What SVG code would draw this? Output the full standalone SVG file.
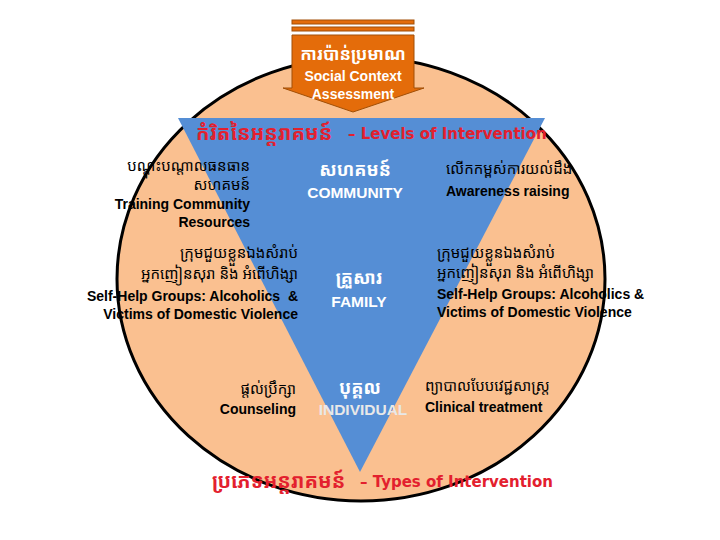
<svg xmlns="http://www.w3.org/2000/svg" width="720" height="540" viewBox="0 0 720 540">
<style>
.en{font-family:"Liberation Sans",Arial,sans-serif;font-weight:bold;font-size:14px;fill:#000}
.km{font-family:"Noto Sans Khmer","Khmer OS","Noto Sans","DejaVu Sans",sans-serif;font-size:15px;fill:#000}
.wh{font-family:"Liberation Sans",Arial,sans-serif;font-weight:bold;font-size:15.5px;fill:#fff}
.kmw{font-family:"Noto Sans Khmer","Khmer OS","Noto Sans","DejaVu Sans",sans-serif;font-weight:bold;font-size:18px;fill:#fff}
.red{font-family:"DejaVu Sans",Verdana,sans-serif;font-weight:bold;font-size:15px;fill:#E3202E}
.kmr{font-family:"Noto Sans Khmer","Khmer OS","Noto Sans","DejaVu Sans",sans-serif;font-weight:bold;font-size:20px;fill:#E3202E}
.r{text-anchor:end}.m{text-anchor:middle}
</style>
<rect width="720" height="540" fill="#fff"/>
<g id="circle"><ellipse cx="361" cy="279" rx="244" ry="222" fill="#FAC090" stroke="#000" stroke-width="3"/></g>
<g id="triangle"><polygon points="178,118 545,118 360,472" fill="#558ED5"/></g>
<g id="assessment">
<rect x="292" y="20" width="122" height="4" fill="#E46C0A" stroke="#A14F06" stroke-width="1"/>
<rect x="292" y="27" width="122" height="4" fill="#E46C0A" stroke="#A14F06" stroke-width="1"/>
<path d="M292,35 H414 V88 H424 L353,112 L283,88 H292 Z" fill="#E46C0A" stroke="#A14F06" stroke-width="1"/>
<text class="kmw m" x="353" y="60" style="font-size:17px">ការប៉ាន់ប្រមាណ</text>
<text class="wh m" x="353" y="81" style="font-size:14px">Social Context</text>
<text class="wh m" x="353" y="99" style="font-size:14px">Assessment</text>
</g>
<g id="levels-title"><text class="kmr" x="196" y="140">កំរិតនៃអន្តរាគមន៍</text><text class="red" x="348" y="139">– Levels of Intervention</text></g>
<g id="community"><text class="kmw m" x="355" y="176">សហគមន៍</text><text class="wh m" x="355" y="198">COMMUNITY</text></g>
<g id="family"><text class="kmw m" x="359" y="284">គ្រួសារ</text><text class="wh m" x="359" y="307">FAMILY</text></g>
<g id="individual"><text class="kmw m" x="360" y="394">បុគ្គល</text><text class="wh m" x="363" y="415" style="fill:#E8E8E8">INDIVIDUAL</text></g>
<g id="training"><text class="km r" x="250" y="171">បណ្តុះបណ្តាលធនធាន</text><text class="km r" x="250" y="190">សហគមន៍</text><text class="en r" x="250" y="209">Training Community</text><text class="en r" x="250" y="227">Resources</text></g>
<g id="awareness"><text class="km" x="446" y="174">លើកកម្ពស់ការយល់ដឹង</text><text class="en" x="446" y="196">Awareness raising</text></g>
<g id="selfhelp-left"><text class="km r" x="298" y="258">ក្រុមជួយខ្លួនឯងសំរាប់</text><text class="km r" x="298" y="279">អ្នកញៀនសុរា និង អំពើហិង្សា</text><text class="en r" x="298" y="301" xml:space="preserve">Self-Help Groups: Alcoholics  &amp;</text><text class="en r" x="298" y="319">Victims of Domestic Violence</text></g>
<g id="selfhelp-right"><text class="km" x="437" y="258">ក្រុមជួយខ្លួនឯងសំរាប់</text><text class="km" x="437" y="278">អ្នកញៀនសុរា និង អំពើហិង្សា</text><text class="en" x="437" y="299">Self-Help Groups: Alcoholics &amp;</text><text class="en" x="437" y="317">Victims of Domestic Violence</text></g>
<g id="counseling"><text class="km r" x="296" y="394">ផ្តល់ប្រឹក្សា</text><text class="en r" x="296" y="414">Counseling</text></g>
<g id="clinical"><text class="km" x="425" y="391">ព្យាបាលបែបវេជ្ជសាស្ត្រ</text><text class="en" x="425" y="412">Clinical treatment</text></g>
<g id="types-title"><text class="kmr" x="212" y="488">ប្រភេទអន្តរាគមន៍</text><text class="red" x="360" y="487">– Types of Intervention</text></g>
<g id="connectors"></g>
</svg>
